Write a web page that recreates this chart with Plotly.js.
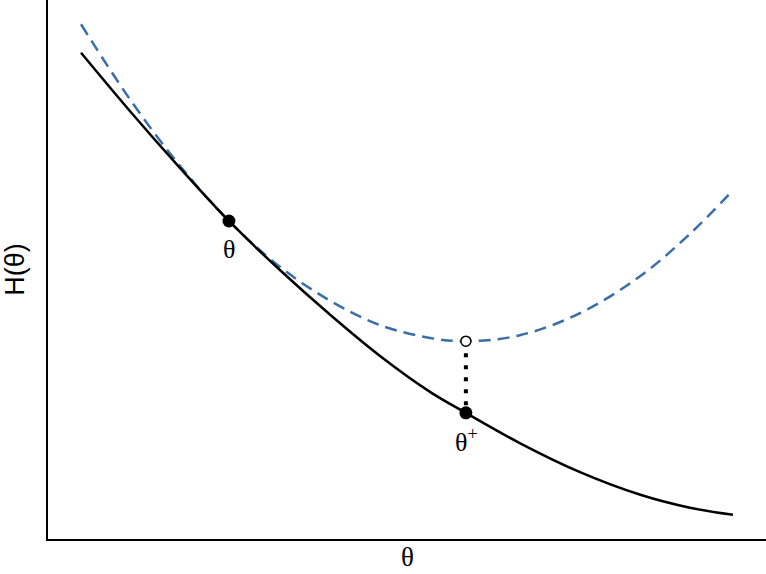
<!DOCTYPE html>
<html>
<head>
<meta charset="utf-8">
<script src="https://cdn.plot.ly/plotly-3.0.1.min.js"></script>
<style>
  html, body { margin: 0; padding: 0; background: #fff; }
  #chart { width: 766px; height: 574px; }
</style>
</head>
<body>
<div id="chart"></div>
<script>
// values (arbitrary units, both axes 0..10)
const thetaX = [0.46, 1.14, 1.84, 2.52, 3.23, 3.93, 4.62, 5.32, 5.82, 6.57, 7.41, 8.25, 8.94, 9.54];
// objective H(theta), solid black
const objY   = [9.02, 7.94, 6.88, 5.90, 4.99, 4.16, 3.40, 2.73, 2.34, 1.78, 1.24, 0.82, 0.58, 0.45];
// upper bound touching at theta, dashed blue
const boundY = [9.55, 8.16, 6.92, 5.90, 5.05, 4.42, 3.97, 3.73, 3.67, 3.78, 4.19, 4.88, 5.66, 6.47];

// current point and next point
const curX = 2.52, curY = 5.90;
const nextX = 5.82, nextY = 2.34, nextBoundY = 3.67;

const serif = 'Liberation Serif, DejaVu Serif, serif';

const data = [
  {
    x: thetaX, y: boundY,
    type: 'scatter', mode: 'lines',
    line: {color: '#3a6ea8', width: 2.5, dash: '12px,7px', shape: 'spline'},
    hoverinfo: 'skip'
  },
  {
    x: thetaX, y: objY,
    type: 'scatter', mode: 'lines',
    line: {color: '#000', width: 2.5, shape: 'spline'},
    hoverinfo: 'skip'
  },
  {
    // vertical gap between bound and objective
    x: [nextX, nextX], y: [nextBoundY, nextY],
    type: 'scatter', mode: 'lines',
    line: {color: '#000', width: 4, dash: '4px,8px'},
    hoverinfo: 'skip'
  },
  {
    x: [curX, nextX], y: [curY, nextY],
    type: 'scatter', mode: 'markers',
    marker: {color: '#000', size: 13},
    hoverinfo: 'skip'
  },
  {
    x: [nextX], y: [nextBoundY],
    type: 'scatter', mode: 'markers',
    marker: {color: '#fff', size: 10, line: {color: '#000', width: 1.5}},
    hoverinfo: 'skip'
  }
];

const layout = {
  width: 766,
  height: 574,
  showlegend: false,
  margin: {l: 48, r: 0, t: 0, b: 35},
  paper_bgcolor: '#fff',
  plot_bgcolor: '#fff',
  xaxis: {
    range: [0, 10],
    showgrid: false, zeroline: false, showticklabels: false, ticks: '',
    showline: true, linecolor: '#000', linewidth: 2
  },
  yaxis: {
    range: [0, 10],
    showgrid: false, zeroline: false, showticklabels: false, ticks: '',
    showline: true, linecolor: '#000', linewidth: 2,
    title: {text: 'H(θ)', font: {family: 'Liberation Sans, Arial, sans-serif', size: 27, color: '#000'}, standoff: 16}
  },
  annotations: [
    // x axis title, sits low in the bottom margin
    {xref: 'paper', yref: 'paper', x: 0.5, y: 0, yanchor: 'middle', yshift: -18, height: 24,
     text: 'θ', showarrow: false, font: {family: serif, size: 27, color: '#000'}},
    {x: curX, y: curY, text: 'θ', showarrow: false, yshift: -29,
     font: {family: serif, size: 26, color: '#000'}},
    {x: nextX, y: nextY, text: 'θ<sup>+</sup>', showarrow: false, yshift: -28, xshift: 1,
     font: {family: serif, size: 26, color: '#000'}}
  ]
};

Plotly.newPlot('chart', data, layout, {displayModeBar: false, staticPlot: true});
</script>
</body>
</html>
